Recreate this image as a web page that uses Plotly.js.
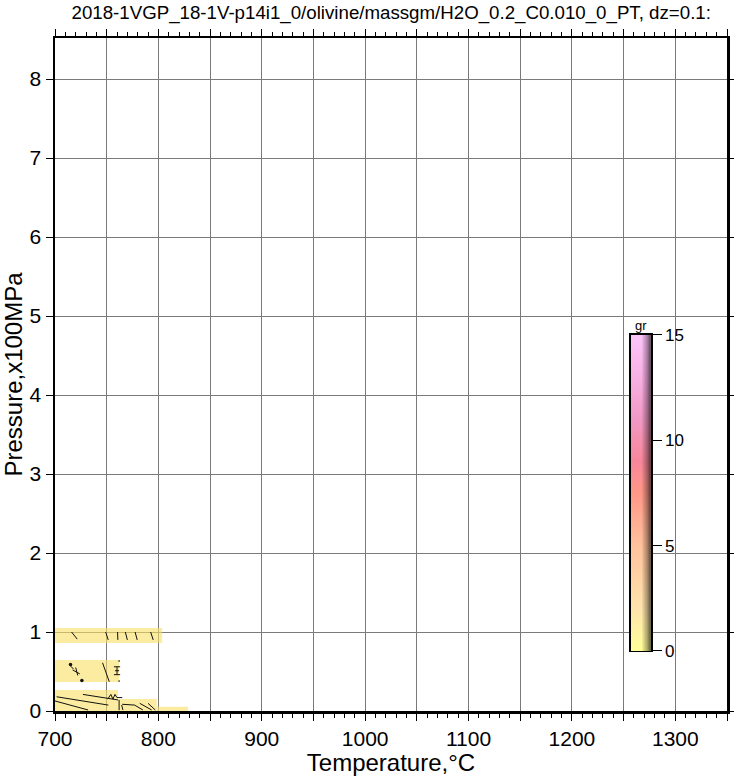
<!DOCTYPE html>
<html>
<head>
<meta charset="utf-8">
<script src="https://cdn.plot.ly/plotly-3.0.1.min.js"></script>
<style>html,body{margin:0;padding:0;background:#fff;}#plot{width:734px;height:776px;}</style>
</head>
<body>
<div id="plot"></div>
<script>
// ---- data ----
const titleText = "2018-1VGP_18-1V-p14i1_0/olivine/massgm/H2O_0.2_C0.010_0_PT, dz=0.1:";
const xTickVals = [700,750,800,850,900,950,1000,1050,1100,1150,1200,1250,1300,1350];
const xTickText = ["700","","800","","900","","1000","","1100","","1200","","1300",""];
const yTickVals = [0,1,2,3,4,5,6,7,8];

// filled regions (value ~0 of "gr"), temperature / pressure extents
const bandTmin = [700, 700, 700, 761, 798.4];
const bandTmax = [803.6, 762, 761, 798.4, 828.7];
const bandPmin = [0.86, 0.367, 0, 0, 0];
const bandPmax = [1.05, 0.645, 0.266, 0.152, 0.055];

// contour fragments (null separates segments)
const contourT = [716,721.5,null, 749,751.5,null, 760.5,760.8,null, 768,770,null, 777.5,779.5,null, 792.5,795,null,
  746,752.5,null, 715,718,null, 717,724,null, 720,722,null,
  760,760,null, 757,763,null, 757,763,null, 758,762,null,
  762,762,null, 762,762,null,
  701.6,751.6,null, 700,732,null, 727,761,null,
  751,754,756,758,760,765,null,
  762,762,null, 764.5,765.7,null, 765,777,785,null, 782,793.5,null, 790,797];
const contourP = [1.0,0.91,null, 1.0,0.90,null, 1.0,0.90,null, 1.0,0.90,null, 1.0,0.90,null, 1.0,0.90,null,
  0.61,0.37,null, 0.57,0.53,null, 0.52,0.47,null, 0.55,0.45,null,
  0.46,0.56,null, 0.56,0.56,null, 0.46,0.46,null, 0.51,0.51,null,
  0.645,0.62,null, 0.39,0.367,null,
  0.18,0.075,null, 0.127,0.013,null, 0.21,0.14,null,
  0.15,0.21,0.15,0.21,0.17,0.17,null,
  0.14,0.01,null, 0.076,0.013,null, 0.085,0.075,0.013,null, 0.097,0.013,null, 0.097,0.013];
const dotT = [715, 726];
const dotP = [0.59, 0.385];

// colour bar "gr"
const cbLevels = [0,0.5,1,1.5,2,2.5,3,3.5,4,4.5,5,5.5,6,6.5,7,7.5,8,8.5,9,9.5,10,10.5,11,11.5,12,12.5,13,13.5,14,14.5,15];
const cbCols = [0.025,0.075,0.125,0.175,0.225,0.275,0.325,0.375,0.425,0.475,0.525,0.575,0.625,0.675,0.725,0.775,0.825,0.875,0.925,0.975];
const cbShade = [0,0.05,0.1,0.15,0.2,0.25,0.3,0.35,0.4,0.45,0.5,0.55,0.6,0.65,0.7,0.75,0.8,0.85,0.9,0.95];
const cbStops = [0, 2, 5, 7.5, 9, 11, 13, 15];
const cbColors = ['#ffff98','#ffe4ac','#ffc29c','#ff9888','#f8869a','#f098c4','#f8b0e4','#fcc4f8'];
const cbTicks = [0,5,10,15];

// ---- build ----
const FONT = 'Liberation Sans, Arial, Helvetica, sans-serif';
const traces = [];
for (let i = 0; i < bandTmin.length; i++) {
  traces.push({
    type:'scatter', mode:'lines', fill:'toself',
    x:[bandTmin[i], bandTmax[i], bandTmax[i], bandTmin[i], bandTmin[i]],
    y:[bandPmin[i], bandPmin[i], bandPmax[i], bandPmax[i], bandPmin[i]],
    fillcolor:'rgba(248,224,100,0.6)', line:{width:0}, hoverinfo:'skip', showlegend:false
  });
}
traces.push({type:'scatter', mode:'lines', x:contourT, y:contourP, connectgaps:false,
  line:{color:'#111', width:1}, showlegend:false, hoverinfo:'skip'});
traces.push({type:'scatter', mode:'markers', x:dotT, y:dotP,
  marker:{color:'#111', size:3.5}, showlegend:false, hoverinfo:'skip'});

const cmin = cbStops[0], cmax = cbStops[cbStops.length-1];
const colorscale = cbStops.map((s,i)=>[(s-cmin)/(cmax-cmin), cbColors[i]]);
traces.push({type:'heatmap', xaxis:'x2', yaxis:'y2', x:cbCols, y:cbLevels,
  z: cbLevels.map(v => cbCols.map(() => v)), zmin:cmin, zmax:cmax,
  colorscale: colorscale, showscale:false, hoverinfo:'skip', zsmooth:'best'});
traces.push({type:'heatmap', xaxis:'x2', yaxis:'y2', x:cbCols, y:cbLevels,
  z: cbLevels.map(() => cbShade), zmin:0, zmax:1, zsmooth:'best',
  colorscale:[[0,'rgba(0,0,0,0)'],[0.45,'rgba(0,0,0,0)'],[0.75,'rgba(0,0,0,0.35)'],[1,'rgba(0,0,0,0.8)']],
  showscale:false, hoverinfo:'skip'});

const layout = {
  width:734, height:776,
  margin:{l:55, r:7, t:38, b:65},
  paper_bgcolor:'#fff', plot_bgcolor:'#fff',
  font:{family:FONT, color:'#000'},
  showlegend:false,
  title:{text:titleText, font:{size:18.7, family:FONT}, x:0.533, xanchor:'center', y:0.992, yanchor:'top'},
  xaxis:{range:[700,1350], tickmode:'array', tickvals:xTickVals, ticktext:xTickText,
    ticks:'outside', ticklen:7, tickwidth:1, tickcolor:'#000',
    minor:{dtick:10, tick0:700, ticks:'outside', ticklen:4, tickwidth:1, tickcolor:'#000', showgrid:false},
    showgrid:true, gridcolor:'#7a7a7a', gridwidth:1, zeroline:false,
    showline:true, linecolor:'#000', linewidth:2.5, mirror:'ticks',
    tickfont:{size:21, family:FONT},
    title:{text:'Temperature,°C', font:{size:24, family:FONT}, standoff:4}},
  yaxis:{range:[0,8.52], tickmode:'array', tickvals:yTickVals,
    ticks:'outside', ticklen:7, tickwidth:1, tickcolor:'#000',
    showgrid:true, gridcolor:'#7a7a7a', gridwidth:1, zeroline:false,
    showline:true, linecolor:'#000', linewidth:2.5, mirror:'ticks',
    tickfont:{size:21, family:FONT},
    title:{text:'Pressure,x100MPa', font:{size:24, family:FONT}, standoff:8}},
  xaxis2:{domain:[0.857,0.887], anchor:'y2', range:[0,1], showticklabels:false, ticks:'',
    showgrid:false, zeroline:false, showline:true, linecolor:'#000', linewidth:1.5, mirror:true, fixedrange:true},
  yaxis2:{domain:[0.0892,0.5587], anchor:'x2', side:'right', range:[0,15], tickmode:'array', tickvals:cbTicks,
    ticks:'outside', ticklen:9, tickwidth:1, tickcolor:'#000', tickfont:{size:17, family:FONT},
    showgrid:false, zeroline:false, showline:true, linecolor:'#000', linewidth:1.5, mirror:true},
  annotations:[{text:'gr', xref:'x2 domain', yref:'y2 domain', x:0.5, y:1.0, xanchor:'center', yanchor:'bottom',
    showarrow:false, font:{size:13, family:FONT}, yshift:0}]
};
Plotly.newPlot('plot', traces, layout, {displayModeBar:false, staticPlot:true});
</script>
</body>
</html>
